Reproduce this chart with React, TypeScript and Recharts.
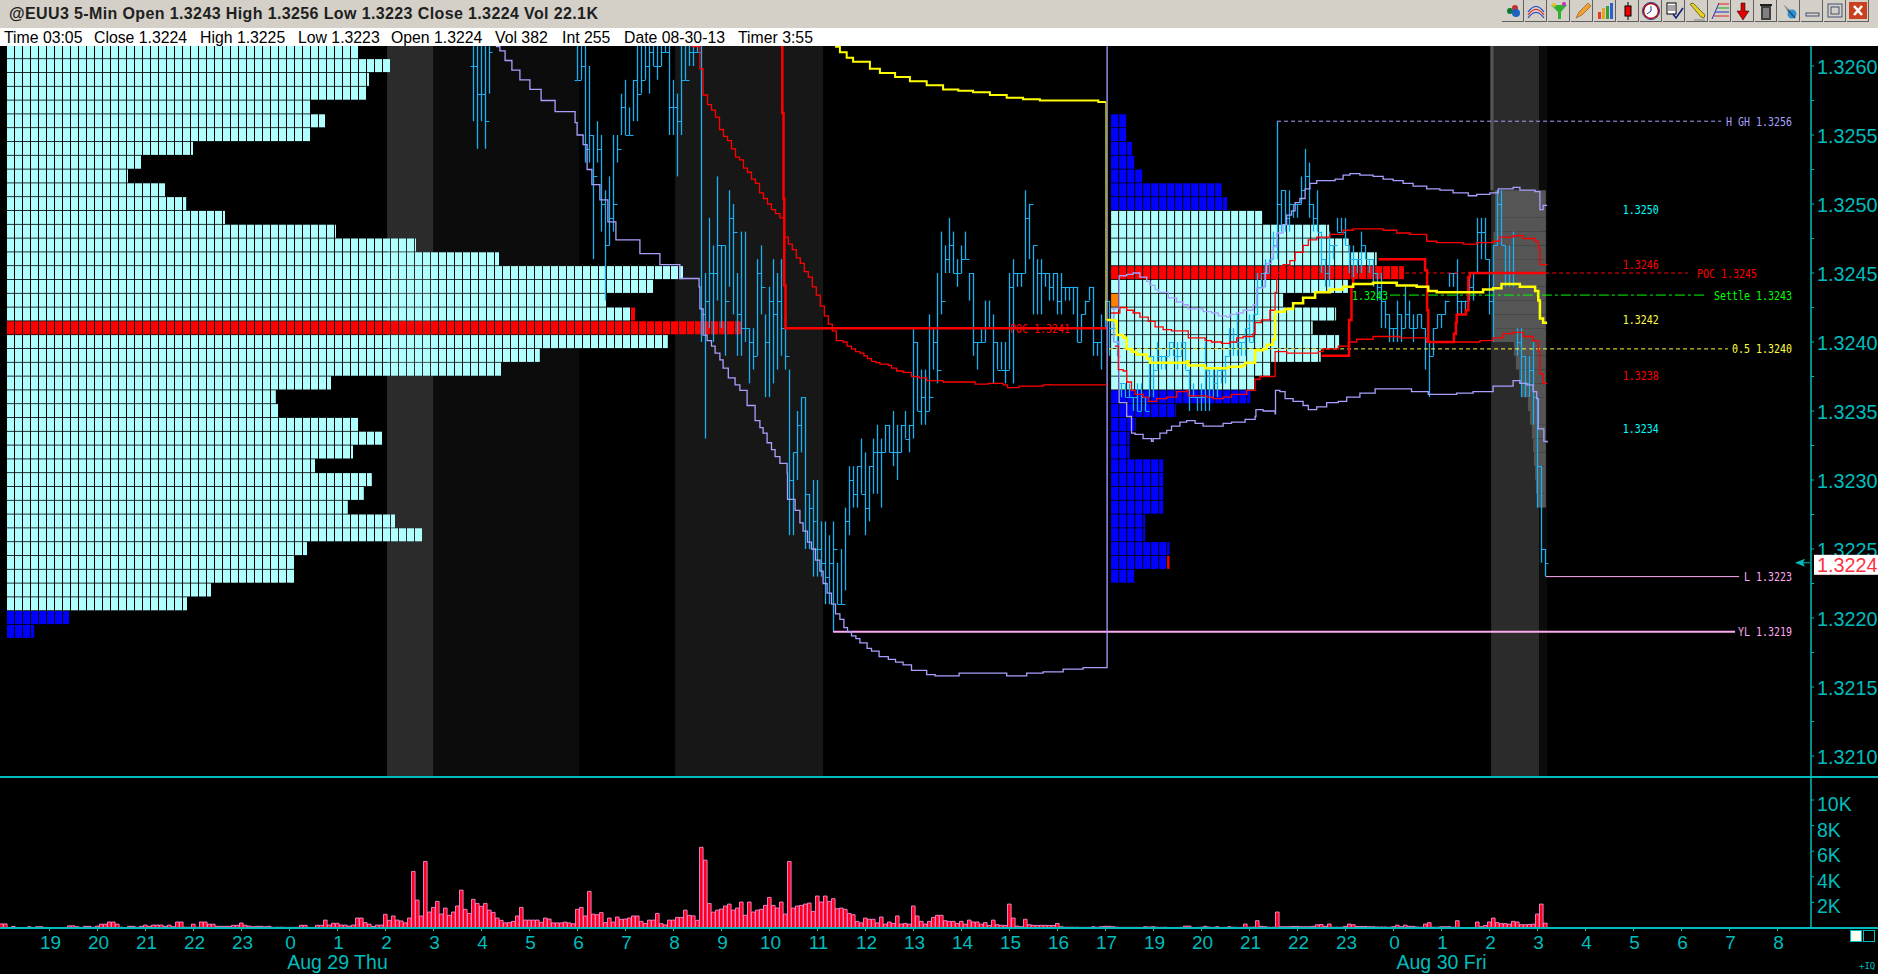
import React from "react";
import {
  Bar,
  BarChart,
  ComposedChart,
  Line,
  ReferenceArea,
  ReferenceDot,
  XAxis,
  YAxis,
} from "recharts";

const PRICE_TOP = 13261.45;
const PRICE_BOTTOM = 13208.55;
const LAST_PRICE = 13224;
// x axis is the 5-min bar number, -0.375 is the left page edge
const X_DOMAIN: [number, number] = [-0.375, 452.375];

const priceMajorTicks = [13260, 13255, 13250, 13245, 13240, 13235, 13230, 13225, 13220, 13215, 13210];
const priceMinorTicks = [13257.5, 13252.5, 13247.5, 13242.5, 13237.5, 13232.5, 13227.5, 13222.5, 13217.5, 13212.5];
const volumeTicks = [2000, 4000, 6000, 8000, 10000];
const hourBars = [12, 24, 36, 48, 60, 72, 84, 96, 108, 120, 132, 144, 156, 168, 180, 192, 204, 216, 228, 240, 252, 264, 276, 288, 300, 312, 324, 336, 348, 360, 372, 384, 396, 408, 420, 432, 444];
const hourLabels = ["19", "20", "21", "22", "23", "0", "1", "2", "3", "4", "5", "6", "7", "8", "9", "10", "11", "12", "13", "14", "15", "16", "17", "19", "20", "21", "22", "23", "0", "1", "2", "3", "4", "5", "6", "7", "8"];
const dayLabelBars = [84, 360];
const dayLabels = ["Aug 29 Thu", "Aug 30 Fri"];

// volume per bar, one row per hour
const volumes = [
  320, 320, 40, 120, 40, 40, 40, 100, 40, 100, 100, 40,
  40, 40, 40, 40, 40, 170, 170, 100, 40, 130, 130, 60,
  150, 300, 300, 470, 470, 300, 60, 40, 130, 130, 50, 130,
  230, 130, 230, 230, 230, 130, 230, 100, 470, 470, 60, 60,
  300, 60, 470, 470, 300, 300, 130, 130, 130, 130, 210, 210,
  390, 210, 150, 100, 130, 130, 100, 130, 50, 60, 60, 50,
  50, 50, 50, 210, 210, 50, 50, 210, 210, 620, 230, 370,
  370, 230, 230, 150, 230, 780, 780, 420, 300, 120, 230, 230,
  1070, 600, 940, 620, 550, 400, 780, 4420, 2180, 940, 5200, 1250,
  1610, 2080, 1090, 1560, 990, 1250, 1720, 2960, 1460, 1140, 2240, 1920,
  1690, 1920, 1400, 1220, 780, 600, 400, 420, 520, 940, 1610, 620,
  620, 620, 620, 440, 780, 700, 400, 400, 400, 460, 400, 330,
  1460, 1610, 940, 2860, 1080, 1040, 1200, 420, 780, 460, 860, 680,
  700, 780, 940, 940, 520, 350, 620, 620, 1140, 340, 240, 620,
  620, 830, 830, 1400, 990, 950, 600, 6300, 5300, 1920, 1240, 1400,
  1480, 1720, 1870, 1400, 1560, 2030, 1000, 2030, 1250, 1400, 1460, 1770,
  2390, 1770, 1560, 2030, 1090, 5200, 1560, 1720, 1770, 1870, 1950, 1300,
  2500, 2030, 2500, 2080, 2290, 1510, 1560, 1460, 1140, 1040, 520, 400,
  780, 680, 680, 400, 860, 310, 470, 360, 940, 310, 360, 300,
  1720, 940, 520, 310, 520, 830, 990, 990, 570, 520, 520, 360,
  520, 300, 620, 470, 470, 300, 420, 200, 620, 260, 210, 200,
  1870, 780, 150, 100, 680, 260, 210, 200, 210, 210, 200, 200,
  360, 100, 60, 60, 60, 60, 50, 50, 50, 100, 60, 100,
  130, 130, 100, 60, 50, 50, 50, 50, 50, 40, 100, 80,
  100, 60, 50, 60, 40, 40, 40, 50, 150, 150, 40, 50,
  60, 130, 70, 50, 100, 40, 50, 100, 60, 50, 50, 310,
  60, 70, 570, 130, 100, 60, 60, 1250, 100, 100, 100, 120,
  120, 100, 100, 100, 130, 250, 270, 130, 310, 60, 60, 60,
  130, 310, 260, 120, 120, 120, 100, 100, 80, 80, 80, 60,
  100, 220, 100, 220, 130, 130, 80, 60, 310, 420, 60, 60,
  100, 100, 100, 60, 570, 40, 40, 40, 40, 470, 100, 200,
  470, 780, 420, 340, 340, 300, 520, 470, 260, 260, 280, 300,
  1090, 1870, 382,
];

// [high, low, close] per bar
const nightBarsStart = 118;
const nightBars = [
  [13264, 13256, 13260], [13264, 13254, 13258], [13264, 13256, 13258], [13264, 13254, 13256], [13264, 13258, 13261],
];
const londonBarsStart = 144;
const londonBars = [
  [13263, 13259, 13259], [13263, 13259, 13260], [13263, 13253, 13254], [13260, 13253, 13255], [13255, 13246, 13252],
  [13256, 13253, 13254], [13255, 13248, 13250], [13251, 13243, 13247], [13252, 13247, 13249], [13255, 13248, 13250],
  [13255, 13253, 13254], [13258, 13255, 13257], [13259, 13255, 13255], [13257, 13255, 13255], [13259, 13256, 13259],
  [13262, 13256, 13258], [13262, 13258, 13259], [13262, 13259, 13260], [13262, 13258, 13261], [13262, 13260, 13260],
  [13262, 13259, 13260], [13262, 13260, 13261], [13263, 13261, 13261], [13262, 13255, 13257], [13259, 13255, 13257],
  [13258, 13252, 13256], [13262, 13255, 13259], [13262, 13259, 13259], [13263, 13260, 13261], [13262, 13260, 13261],
  [13262, 13261, 13261], [13262, 13240, 13242], [13245, 13233, 13243], [13249, 13241, 13245], [13247, 13240, 13245],
  [13252, 13243, 13247], [13247, 13241, 13247], [13247, 13239, 13243], [13251, 13244, 13249], [13250, 13242, 13248],
  [13245, 13239, 13242], [13248, 13239, 13241], [13248, 13240, 13241], [13241, 13237, 13240], [13241, 13238, 13239],
  [13246, 13239, 13245], [13247, 13242, 13244], [13242, 13236, 13240], [13244, 13236, 13243], [13246, 13237, 13242],
  [13245, 13238, 13243], [13246, 13239, 13241], [13242, 13238, 13239], [13238, 13226, 13230], [13232, 13226, 13232],
  [13235, 13230, 13234], [13236, 13232, 13236], [13236, 13225, 13229], [13229, 13225, 13228], [13230, 13223, 13227],
];
const usBars = [
  [13230, 13223, 13225], [13227, 13223, 13224], [13227, 13221, 13223], [13226, 13221, 13224], [13227, 13219, 13225],
  [13224, 13221, 13221], [13225, 13221, 13221], [13228, 13222, 13227], [13231, 13226, 13230], [13231, 13228, 13229],
  [13231, 13228, 13231], [13233, 13229, 13229], [13232, 13226, 13228], [13231, 13227, 13231], [13233, 13229, 13232],
  [13234, 13229, 13232], [13233, 13228, 13232], [13234, 13232, 13234], [13234, 13232, 13232], [13235, 13231, 13232],
  [13234, 13230, 13232], [13234, 13232, 13234], [13235, 13233, 13233], [13234, 13232, 13234], [13241, 13233, 13240],
  [13240, 13235, 13235], [13238, 13234, 13236], [13238, 13234, 13235], [13242, 13235, 13236], [13241, 13238, 13240],
  [13245, 13237, 13238], [13248, 13242, 13243], [13247, 13245, 13246], [13249, 13245, 13247], [13248, 13245, 13245],
  [13246, 13244, 13245], [13247, 13245, 13246], [13248, 13246, 13246], [13245, 13243, 13245], [13245, 13239, 13240],
  [13240, 13238, 13240], [13241, 13240, 13240], [13243, 13240, 13241], [13243, 13241, 13241], [13242, 13237, 13240],
  [13240, 13238, 13238], [13240, 13238, 13238], [13240, 13237, 13238], [13245, 13238, 13244], [13246, 13237, 13245],
  [13245, 13244, 13245], [13245, 13244, 13245], [13251, 13245, 13249], [13250, 13246, 13250], [13247, 13242, 13247],
  [13246, 13242, 13245], [13246, 13242, 13245], [13245, 13244, 13245], [13245, 13243, 13244], [13245, 13243, 13245],
  [13245, 13242, 13243], [13245, 13242, 13244], [13244, 13243, 13244], [13244, 13243, 13244], [13244, 13242, 13244],
  [13244, 13240, 13240], [13242, 13240, 13242], [13243, 13242, 13243], [13244, 13243, 13244], [13244, 13239, 13240],
  [13240, 13239, 13240], [13242, 13238, 13241], [13243, 13241, 13243], [13243, 13239, 13241], [13242, 13240, 13241],
  [13241, 13239, 13239],
];
const nextDayBars = [
  [13237, 13236, 13237], [13237, 13236, 13236], [13237, 13236, 13236], [13236, 13235, 13236], [13237, 13235, 13235],
  [13237, 13235, 13236], [13236, 13235, 13235], [13239, 13236, 13239], [13239, 13236, 13238], [13240, 13238, 13239],
  [13239, 13238, 13239], [13239, 13238, 13239], [13240, 13239, 13240], [13240, 13239, 13239], [13240, 13238, 13239],
  [13240, 13239, 13240], [13240, 13238, 13238], [13238, 13235, 13236], [13237, 13236, 13236], [13236, 13235, 13236],
  [13237, 13235, 13236], [13240, 13235, 13238], [13238, 13235, 13236], [13238, 13236, 13237], [13238, 13236, 13238],
  [13238, 13237, 13238], [13239, 13237, 13239], [13241, 13239, 13240], [13241, 13239, 13240], [13242, 13239, 13240],
  [13240, 13239, 13240], [13241, 13239, 13241], [13242, 13240, 13240], [13242, 13240, 13242], [13245, 13242, 13244],
  [13245, 13244, 13245], [13246, 13244, 13245], [13246, 13245, 13246], [13248, 13246, 13247], [13256, 13246, 13250],
  [13251, 13248, 13251], [13251, 13248, 13249], [13251, 13248, 13250], [13250, 13249, 13250], [13250, 13249, 13250],
  [13252, 13250, 13251], [13254, 13251, 13252], [13253, 13249, 13250], [13250, 13248, 13249], [13251, 13248, 13248],
  [13248, 13245, 13246], [13246, 13244, 13245], [13248, 13244, 13247], [13247, 13246, 13247], [13249, 13248, 13248],
  [13249, 13248, 13248], [13249, 13247, 13247], [13247, 13245, 13246], [13247, 13244, 13246], [13246, 13245, 13246],
  [13248, 13245, 13247], [13247, 13246, 13246], [13246, 13245, 13246], [13246, 13244, 13245], [13245, 13243, 13244],
  [13245, 13241, 13243], [13243, 13241, 13242], [13242, 13240, 13241], [13241, 13240, 13241], [13243, 13240, 13242],
  [13242, 13240, 13241], [13244, 13241, 13242], [13243, 13241, 13241], [13242, 13240, 13241], [13242, 13241, 13242],
  [13242, 13241, 13241], [13241, 13238, 13240], [13240, 13236, 13239], [13241, 13239, 13241], [13242, 13241, 13242],
  [13242, 13241, 13242], [13243, 13242, 13243], [13245, 13244, 13245], [13245, 13244, 13245], [13246, 13242, 13243],
  [13243, 13242, 13243], [13243, 13242, 13243], [13245, 13243, 13244], [13245, 13243, 13245], [13249, 13245, 13248],
  [13249, 13246, 13248], [13249, 13246, 13246], [13246, 13242, 13243], [13247, 13240, 13247], [13251, 13247, 13250],
  [13251, 13247, 13247], [13247, 13244, 13245], [13247, 13244, 13245], [13248, 13244, 13245], [13241, 13239, 13240],
  [13241, 13236, 13239], [13239, 13236, 13237], [13239, 13236, 13238], [13240, 13234, 13236], [13236, 13228, 13231],
  [13231, 13224, 13225], [13225, 13223, 13224],
];

// market profile rows, cells per price level
const leftProfileTop = 13261;
const leftProfile = [
  43.9, 47.9, 45.25, 44.9, 37.9, 39.75, 37.9, 23.25, 16.75, 15.1, 19.75, 22.4, 27.25, 41.1, 51.1, 61.5, 84.5, 80.75, 74.9, 78.5,
  91.8, 82.6, 66.6, 61.75, 40.5, 33.6, 33.9, 43.9, 46.9, 43.25, 38.5, 45.6, 44.6, 42.6, 48.5, 51.9, 37.5, 35.9, 35.9, 25.5, 22.5, 7.75, 3.4,
];
const leftBlueBelow = 13221;
const leftPoc = 13241;
const rightProfileTop = 13256;
const rightProfile = [
  1.9, 1.9, 2.6, 2.9, 3.9, 13.8, 14.5, 18.9, 27.25, 29.7, 33.2, 36.6, 29.6, 21.5, 28.1, 25.2, 28.5, 26.2, 19.9, 17.9,
  17.4, 8.1, 3.1, 2.3, 2.3, 6.5, 6.5, 6.5, 6.5, 4.25, 4.25, 7.3, 7.3, 2.9,
];
const rightBlueAbove = 13249;
const rightBlueBelow = 13237;
const rightPoc = 13245;

// shaded sessions, first/last bar
const sessionBars = [[96.4, 108], [108, 144.4], [168.4, 205.4], [372.4, 384.4], [384.4, 386.4]];
const grayRowPrices = [13251, 13250, 13249, 13248, 13247, 13246, 13245, 13244, 13243, 13242, 13241, 13240, 13239, 13238, 13237, 13236, 13235, 13234, 13233, 13232, 13231, 13230, 13229];
const grayRowStart = [373.4, 373.4, 373.4, 373, 373, 373, 373, 373, 373, 373, 373, 378.1, 378.6, 379.4, 380.1, 381.6, 382.1, 382.6, 382.9, 383.1, 383.4, 383.6, 383.9];

const vwapLowDay1 = [[123.6, 13261.4], [124.6, 13261.1], [125.9, 13260.4], [127.6, 13259.7], [129.6, 13259], [132.1, 13258.3], [134.9, 13257.5], [138.4, 13256.7], [143.4, 13255.9], [143.9, 13255], [145.4, 13254.3], [146.4, 13252.5], [147.6, 13251.4], [149.6, 13250.3], [151.6, 13248.7], [153.6, 13247.4], [159.6, 13246.4], [164.6, 13245.6], [169.6, 13244.6], [174.4, 13244], [174.6, 13242.4], [175.4, 13240.5], [176.4, 13240.1], [177.5, 13239.7], [178.4, 13239.2], [179.6, 13238.7], [180.4, 13238.1], [181.7, 13237.4], [183.4, 13236.9], [184.6, 13236.5], [186.4, 13235.4], [188.4, 13234.3], [189.6, 13233.8], [190.4, 13233.4], [191.4, 13232.7], [192.5, 13232.2], [193.4, 13231.7], [194.6, 13231.2], [196.4, 13230.5], [196.5, 13228.6], [198.4, 13227.8], [199.6, 13226.9], [200.4, 13226.3], [201.5, 13225.5], [202.5, 13225], [203.5, 13224.2], [204.6, 13223.4], [205.4, 13222.5], [206.4, 13221.8], [207.5, 13221], [208.5, 13220.3], [209.6, 13219.9], [210.6, 13219.3], [211.5, 13219], [212.5, 13218.7], [213.6, 13218.5], [214.6, 13218.2], [216.4, 13217.8], [217.5, 13217.6], [219.4, 13217.2], [221.7, 13217], [223.5, 13216.8], [225.4, 13216.6], [227.5, 13216.2], [231.3, 13215.9], [233.4, 13215.8], [237.5, 13215.8], [239.4, 13216], [247.5, 13216], [251.3, 13215.8], [253.8, 13215.8], [256.3, 13216], [260.4, 13216.1], [265.4, 13216.3], [270.4, 13216.4], [276.4, 13216.5], [276.4, 13262]];
const vwapMidDay1 = [[172.5, 13261.4], [174.6, 13259.8], [175.4, 13257.9], [176.5, 13257.2], [177.5, 13256.8], [178.5, 13256.3], [179.5, 13255.4], [180.5, 13254.9], [181.5, 13254.6], [182.5, 13254], [183.5, 13253.4], [184.5, 13253.2], [185.5, 13252.6], [186.5, 13252.3], [187.5, 13251.8], [188.5, 13251.5], [189.5, 13250.8], [190.5, 13250.4], [191.5, 13250], [192.5, 13249.6], [193.5, 13249.3], [194.6, 13249], [195.7, 13247.6], [196.7, 13247.1], [197.7, 13246.7], [198.7, 13246.1], [199.7, 13245.7], [200.7, 13245.1], [201.7, 13244.7], [202.7, 13244], [203.7, 13243.4], [204.7, 13242.6], [205.7, 13241.9], [206.7, 13241.3], [207.7, 13240.8], [208.7, 13240.1], [210.4, 13240], [211.4, 13239.7], [212.5, 13239.5], [213.5, 13239.3], [214.6, 13239.2], [215.6, 13239], [216.5, 13238.8], [217.5, 13238.6], [218.6, 13238.5], [219.6, 13238.4], [221.7, 13238.3], [222.5, 13238.1], [223.8, 13237.9], [225.4, 13237.8], [227.5, 13237.5], [229.4, 13237.4], [231.3, 13237.2], [235.4, 13237.1], [243.4, 13236.95], [246.7, 13237], [250.4, 13236.9], [251.5, 13236.7], [254.4, 13236.8], [260.4, 13236.9], [276.3, 13236.9]];
const yellowDay1 = [[208.4, 13261.4], [209.6, 13261], [211.3, 13260.6], [212.9, 13260.3], [217.1, 13259.8], [219.6, 13259.5], [223.4, 13259.2], [227.1, 13258.9], [231.3, 13258.6], [235.4, 13258.3], [239.2, 13258.2], [242.9, 13258.1], [247.1, 13257.9], [251.3, 13257.7], [255.4, 13257.6], [259.6, 13257.5], [264.6, 13257.5], [274.2, 13257.4], [276.1, 13257.4]];
const yellowDrop = [[276.1, 13257.4], [276.1, 13241.6]];
const pocDay1 = [[195.2, 13261.45], [195.2, 13256.6], [195.5, 13256.6], [195.5, 13250.4], [195.7, 13250.4], [195.7, 13244.1], [196, 13244.1], [196, 13241], [276.3, 13241]];

const upperLavenderDay2 = [[277.6, 13242.4], [279.4, 13242.6], [279.4, 13244.8], [281.3, 13244.9], [282.9, 13245], [284.6, 13244.7], [286.3, 13244.4], [287.1, 13244.1], [288.4, 13243.8], [289.2, 13243.6], [291.7, 13243.2], [293.8, 13242.9], [295.4, 13242.7], [296.7, 13242.4], [298.8, 13242.4], [300.4, 13242.2], [302.5, 13242.1], [304.2, 13241.9], [306.3, 13241.8], [307.1, 13242], [308.8, 13242.1], [310.4, 13242.3], [312.9, 13242.7], [313.8, 13243.9], [315.4, 13244], [315.9, 13245], [316.3, 13245.7], [317.5, 13246.1], [317.9, 13246.9], [318.8, 13247.9], [320.4, 13248.5], [321.3, 13249.2], [322.5, 13249.5], [323.4, 13250.1], [324.6, 13250.4], [325.9, 13251.1], [327.1, 13251.5], [328.8, 13251.7], [333.4, 13251.8], [335.4, 13252.1], [337.1, 13252.2], [339.6, 13252.1], [342.9, 13252], [345.4, 13251.8], [347.9, 13251.7], [350.4, 13251.5], [352.9, 13251.3], [356.3, 13251.1], [359.6, 13251], [362.9, 13250.8], [366.7, 13250.6], [368.8, 13250.7], [372.1, 13250.8], [374.2, 13251.1], [377.9, 13251.2], [379.6, 13251], [383.4, 13250.9], [384.6, 13250.5], [384.6, 13249.6], [385.4, 13249.9], [386.4, 13249.9]];
const upperRedDay2 = [[277.4, 13242.1], [279.6, 13242.5], [281.3, 13242.3], [282.9, 13242.1], [284.6, 13241.8], [286.7, 13241.5], [288.4, 13241.1], [290.4, 13240.9], [292.5, 13240.8], [296.7, 13240.3], [300, 13240.3], [300.9, 13240.1], [302.5, 13240], [305, 13239.9], [307.1, 13240], [308.8, 13240.3], [310.4, 13240.4], [312.9, 13240.6], [313.4, 13241.4], [315, 13241.6], [317.1, 13242.3], [318.4, 13243.6], [318.8, 13245], [320.4, 13245.6], [322.1, 13245.9], [323.4, 13246.5], [325.4, 13247], [326.7, 13247.4], [328.8, 13247.6], [332.1, 13247.8], [335.4, 13248.1], [337.9, 13248.2], [343.4, 13248.2], [345.4, 13248.1], [348.8, 13247.9], [352.1, 13247.8], [356.3, 13247.3], [358.8, 13247.2], [362.9, 13247.2], [365.4, 13247.1], [368.8, 13247.2], [372.9, 13247.3], [374.6, 13247.6], [377.9, 13247.7], [380.4, 13247.5], [383.4, 13247.3], [384.2, 13246.8], [384.6, 13245.6], [386.4, 13245.6]];
const lowerRedDay2 = [[278.3, 13239.7], [279.2, 13238], [280.4, 13237.9], [281.3, 13237.1], [282.5, 13236.5], [283.4, 13236.2], [285.4, 13236], [286.7, 13235.7], [288.8, 13235.9], [291.3, 13236], [293.8, 13236.4], [296.3, 13236.5], [296.7, 13236.1], [301.3, 13236], [302.9, 13235.9], [305.4, 13236], [307.5, 13236.2], [311.3, 13236.5], [313.4, 13237.3], [314.6, 13237.5], [317.9, 13237.5], [318.4, 13239.3], [321.3, 13239.2], [326.3, 13239.2], [329.2, 13239.3], [330.4, 13239.5], [334.2, 13239.7], [336.7, 13240], [338.8, 13240.2], [342.9, 13240.4], [346.3, 13240.4], [349.6, 13240.3], [354.6, 13240.3], [356.3, 13240], [358.8, 13240], [367.1, 13240], [369.6, 13240.1], [372.9, 13240.3], [375.4, 13240.6], [377.9, 13240.7], [380.4, 13240.4], [382.9, 13240.1], [384.2, 13239.3], [384.6, 13237.7], [385.4, 13237], [386.4, 13237]];
const yellowDay2 = [[276.3, 13241.6], [278.4, 13241.5], [278.8, 13240.5], [280.4, 13240.3], [281.3, 13239.5], [282.5, 13239.3], [283.8, 13239.1], [286.3, 13238.8], [287.1, 13238.5], [292.1, 13238.5], [296.3, 13238.6], [296.7, 13238.3], [300.4, 13238.3], [300.9, 13238.1], [306.3, 13238.1], [306.7, 13238.2], [310, 13238.3], [310.9, 13238.5], [313.4, 13238.7], [313.4, 13239.4], [315.4, 13239.5], [316.3, 13239.8], [317.9, 13240.2], [318.4, 13242.2], [320.9, 13242.4], [322.9, 13242.8], [325.4, 13243.2], [328.4, 13243.6], [332.1, 13243.8], [335.4, 13244], [337.9, 13244.2], [342.9, 13244.3], [348.8, 13244.1], [353.8, 13244], [356.7, 13243.7], [358.8, 13243.6], [367.9, 13243.6], [370.4, 13243.8], [372.9, 13243.9], [375, 13244.2], [377.9, 13244.2], [379.6, 13244], [383.4, 13243.7], [384.2, 13243], [384.6, 13241.7], [385.4, 13241.4], [386.4, 13241.4]];
const lowerLavenderDay2 = [[277.3, 13242.4], [278.1, 13240], [279.4, 13238.2], [279.4, 13235.6], [281.3, 13234.6], [282.5, 13233.4], [283.4, 13233.3], [285.4, 13233], [287.5, 13232.8], [287.9, 13233], [289.6, 13233.4], [291.3, 13233.6], [292.5, 13233.9], [294.6, 13234.2], [296.3, 13234.3], [298.4, 13234.1], [300.4, 13233.9], [303.4, 13233.9], [305.4, 13234.1], [307.5, 13234.2], [309.2, 13234.2], [310.9, 13234.4], [313.4, 13234.6], [313.6, 13235.1], [315.4, 13235], [318.4, 13234.8], [318.5, 13236.5], [319.6, 13236.4], [320.9, 13235.9], [322.9, 13235.7], [325.4, 13235.4], [326.7, 13235.1], [328.8, 13235.3], [331.3, 13235.6], [334.2, 13235.7], [336.3, 13236], [339.6, 13236.3], [343.4, 13236.6], [347.9, 13236.6], [352.5, 13236.4], [355.4, 13236.4], [356.7, 13236.2], [360.4, 13236.2], [363.8, 13236.3], [367.9, 13236.4], [372.9, 13236.8], [377.9, 13237.2], [379.6, 13237], [381.3, 13236.9], [382.9, 13236.4], [383.8, 13235.9], [384.2, 13233.7], [385.4, 13233.7], [385.6, 13232.8], [386.4, 13232.7]];
const pocDay2Start = [[330, 13239], [336.9, 13239], [336.9, 13241.6], [337.5, 13241.6], [337.5, 13244], [337.9, 13244], [337.9, 13244.7]];
const pocDay2End = [[344.2, 13246], [355.9, 13246], [355.9, 13245.2], [356.3, 13245.2], [356.4, 13242.3], [356.7, 13240], [362.9, 13240], [363.1, 13240.6], [363.6, 13241.4], [363.8, 13242], [366.1, 13242], [366.1, 13242.3], [366.7, 13244.7], [367.1, 13245], [386, 13245]];

// horizontal levels: price, first bar, last bar, name
const levelPrices = [13256, 13245, 13243.4, 13239.5, 13223, 13219];
const levelFrom = [318.9, 350.9, 347.1, 276.9, 386.1, 207.9];
const levelTo = [429.9, 421.6, 426.1, 431.6, 434.4, 433.4];
const levelNames = ["H GH 1.3256", "POC 1.3245", "Settle 1.3243", "0.5 1.3240", "L 1.3223", "YL 1.3219"];
const levelLabelEnd = [447.6, 438.9, 447.6, 447.6, 447.6, 447.6];
const levelColors = ["#a8a0ff", "#ff0000", "#00ff00", "#ffff40", "#ffa8f0", "#ffa8f0"];
const levelDashes = ["4 3", "4 3", "10 3 3 3", "4 3", undefined, undefined];
const levelWidths = [1, 1, 1, 1, 1, 2];

const sideLabelPrices = [13249.6, 13245.6, 13241.6, 13237.6, 13233.7];
const sideLabelNames = ["1.3250", "1.3246", "1.3242", "1.3238", "1.3234"];
const sideLabelColors = ["#00ffff", "#ff0000", "#ffff40", "#ff0000", "#00ffff"];

const TEAL = "#00bcbc";
const BLUE_BAR = "#18b0f0";
const LAVENDER = "#a8a0ff";
const RED = "#ff0000";
const YELLOW = "#ffff00";

const toPoints = (rows: number[][]) => rows.map(([x, p]) => ({ x, p }));

function buildBars(start: number, rows: number[][]) {
  return rows.map(([h, l, c], k) => ({ x: start + k, h, l, c, o: k > 0 ? rows[k - 1][2] : c, range: [l, h] }));
}

const ohlcData = [
  ...buildBars(nightBarsStart, nightBars),
  ...buildBars(londonBarsStart, londonBars),
  ...buildBars(londonBarsStart + londonBars.length, usBars),
  ...buildBars(londonBarsStart + londonBars.length + usBars.length, nextDayBars),
];

const volumeData = volumes.map((v, x) => ({ x, v }));

interface ProfileRow {
  price: number;
  count: number;
  range: number[];
  fill: string;
  firstFill?: string;
  lastFill?: string;
}

const LEFT_START = 1.375;
const RIGHT_START = 277.4;
const profileRows: ProfileRow[] = [
  ...leftProfile.map((count, k) => {
    const price = leftProfileTop - k;
    return {
      price,
      count,
      range: [LEFT_START, LEFT_START + count * 2],
      fill: price === leftPoc ? RED : price < leftBlueBelow ? "#0000ff" : "#b0ffff",
      lastFill: price === 13242 ? RED : undefined,
    };
  }),
  ...rightProfile.map((count, k) => {
    const price = rightProfileTop - k;
    return {
      price,
      count,
      range: [RIGHT_START, RIGHT_START + count * 2],
      fill: price === rightPoc ? RED : price > rightBlueAbove || price < rightBlueBelow ? "#0000ff" : "#b0ffff",
      firstFill: price === 13243 ? "#ff8000" : undefined,
      lastFill: price === 13224 ? RED : undefined,
    };
  }),
];

function ProfileCells(props: any) {
  const { x, y, width, height, payload } = props;
  const cellW = width / payload.count;
  const cells = [];
  for (let k = 0; k < Math.ceil(payload.count); k++) {
    const left = x + k * cellW;
    const w = Math.min(cellW - 1, x + width - left);
    let fill = payload.fill;
    if (k === 0 && payload.firstFill) fill = payload.firstFill;
    if (k === Math.ceil(payload.count) - 1 && payload.lastFill) fill = payload.lastFill;
    cells.push(<rect key={k} x={left} y={y} width={Math.max(w, 1)} height={height} fill={fill} />);
  }
  return <g>{cells}</g>;
}

function OhlcBar(props: any) {
  const { x, y, width, height, payload } = props;
  const cx = Math.floor(x + width / 2) + 0.5;
  const perPip = height / (payload.h - payload.l);
  const openY = Math.round(y + (payload.h - payload.o) * perPip) + 0.5;
  const closeY = Math.round(y + (payload.h - payload.c) * perPip) + 0.5;
  return (
    <g stroke={BLUE_BAR} strokeWidth={1.3}>
      <line x1={cx} x2={cx} y1={y} y2={y + height} />
      <line x1={cx - 3} x2={cx} y1={openY} y2={openY} strokeWidth={1} />
      <line x1={cx} x2={cx + 3} y1={closeY} y2={closeY} strokeWidth={1} />
    </g>
  );
}

function PriceTick(props: any) {
  const { x, y, payload } = props;
  const v = payload.value;
  if (v === LAST_PRICE) {
    return (
      <g>
        <polygon points={`${x - 16},${y} ${x - 6},${y - 4} ${x - 8},${y} ${x - 6},${y + 4}`} fill={TEAL} />
        <line x1={x - 8} x2={x - 1} y1={y} y2={y} stroke={TEAL} />
        <rect x={x + 3} y={y - 8} width={64} height={20} fill="#fff" />
        <text x={x + 6} y={y + 2} dominantBaseline="central" fontFamily="Liberation Sans" fontSize={19.8} fill="#ff3040">
          {(v / 10000).toFixed(4)}
        </text>
      </g>
    );
  }
  const major = priceMajorTicks.includes(v);
  return (
    <g>
      <line x1={x} x2={x + 3} y1={y} y2={y} stroke={TEAL} />
      {major && (
        <text x={x + 6} y={y + 1} dominantBaseline="central" fontFamily="Liberation Sans" fontSize={19.8} fill={TEAL}>
          {(v / 10000).toFixed(4)}
        </text>
      )}
    </g>
  );
}

function VolumeTick(props: any) {
  const { x, y, payload } = props;
  return (
    <g>
      <line x1={x} x2={x + 3} y1={y} y2={y} stroke={TEAL} />
      <text x={x + 6} y={y + 4} dominantBaseline="central" fontFamily="Liberation Sans" fontSize={19.5} fill={TEAL}>
        {payload.value / 1000}K
      </text>
    </g>
  );
}

function HourTick(props: any) {
  const { x, y, payload } = props;
  const k = hourBars.indexOf(payload.value);
  const day = dayLabelBars.indexOf(payload.value);
  return (
    <g fontFamily="Liberation Sans" fill={TEAL} textAnchor="middle">
      <line x1={x} x2={x} y1={y} y2={y + 3} stroke={TEAL} />
      <text x={x + 1} y={y + 14} dominantBaseline="central" fontSize={19}>{hourLabels[k]}</text>
      {day >= 0 && (
        <text x={x} y={y + 34} dominantBaseline="central" fontSize={19.5}>{dayLabels[day]}</text>
      )}
    </g>
  );
}

function MonoLabel(props: any) {
  const { cx, cy, text, color, anchor } = props;
  return (
    <text
      x={cx}
      y={cy}
      dominantBaseline="central"
      textAnchor={anchor}
      fontFamily="DejaVu Sans Mono"
      fontSize={13}
      fill={color}
      textLength={text.length * 6}
      lengthAdjust="spacingAndGlyphs"
    >
      {text}
    </text>
  );
}

function stairLine(key: string, rows: number[][], color: string, width: number) {
  return (
    <Line
      key={key}
      data={toPoints(rows)}
      dataKey="p"
      type="stepAfter"
      stroke={color}
      strokeWidth={width}
      dot={false}
      activeDot={false}
      isAnimationActive={false}
    />
  );
}

const panelMargin = { top: 0, right: 67, bottom: 0, left: 0 };

function SessionBands() {
  const fills = ["#2b2b2b", "#0c0c0c", "#171717", "#2b2b2b", "#0c0c0c"];
  return (
    <ComposedChart width={1878} height={730} margin={panelMargin} data={volumeData}>
      <XAxis type="number" dataKey="x" domain={X_DOMAIN} hide allowDataOverflow />
      <YAxis type="number" domain={[PRICE_BOTTOM, PRICE_TOP]} hide allowDataOverflow />
      {sessionBars.map(([a, b], k) => (
        <ReferenceArea key={k} x1={a} x2={b} y1={PRICE_BOTTOM} y2={PRICE_TOP} fill={fills[k]} fillOpacity={1} stroke="none" />
      ))}
      <ReferenceArea x1={372.2} x2={373} y1={13251} y2={PRICE_TOP} fill="#555555" fillOpacity={1} stroke="none" />
      {grayRowPrices.map((p, k) => (
        <ReferenceArea key={p} x1={grayRowStart[k]} x2={386.1} y1={p - 1} y2={p} fill="#555555" fillOpacity={1} stroke="none" />
      ))}
    </ComposedChart>
  );
}

function ProfileLayer() {
  return (
    <BarChart width={1878} height={730} margin={panelMargin} layout="vertical" data={profileRows}>
      <XAxis type="number" domain={X_DOMAIN} hide allowDataOverflow />
      <YAxis type="number" dataKey="price" domain={[PRICE_BOTTOM, PRICE_TOP]} reversed hide allowDataOverflow />
      <Bar dataKey="range" barSize={13} shape={ProfileCells} isAnimationActive={false} />
    </BarChart>
  );
}

function PricePanel() {
  return (
    <ComposedChart width={1878} height={730} margin={{ top: 0, right: 0, bottom: 0, left: 0 }} data={ohlcData}>
      <XAxis type="number" dataKey="x" domain={X_DOMAIN} hide allowDataOverflow />
      <YAxis
        type="number"
        orientation="right"
        width={67}
        domain={[PRICE_BOTTOM, PRICE_TOP]}
        allowDataOverflow
        ticks={[...priceMajorTicks, ...priceMinorTicks, LAST_PRICE]}
        interval={0}
        tickSize={0}
        tickMargin={0}
        tickLine={false}
        tick={PriceTick}
        axisLine={{ stroke: TEAL, strokeWidth: 1.5 }}
      />
      {levelPrices.map((p, k) => (
        <Line
          key={levelNames[k]}
          data={[{ x: levelFrom[k], p }, { x: levelTo[k], p }]}
          dataKey="p"
          stroke={levelColors[k]}
          strokeWidth={levelWidths[k]}
          strokeDasharray={levelDashes[k]}
          dot={false}
          activeDot={false}
          isAnimationActive={false}
        />
      ))}
      {stairLine("pocDay1", pocDay1, RED, 2.5)}
      {stairLine("pocDay2a", pocDay2Start, RED, 2.5)}
      {stairLine("pocDay2b", pocDay2End, RED, 2.5)}
      <Bar dataKey="range" barSize={1} shape={OhlcBar} isAnimationActive={false} />
      {stairLine("vwapLowDay1", vwapLowDay1, LAVENDER, 1.3)}
      {stairLine("vwapMidDay1", vwapMidDay1, RED, 1.3)}
      {stairLine("yellowDay1", yellowDay1, YELLOW, 2)}
      {stairLine("yellowDrop", yellowDrop, YELLOW, 1)}
      {stairLine("lowerLavenderDay2", lowerLavenderDay2, LAVENDER, 1.3)}
      {stairLine("upperLavenderDay2", upperLavenderDay2, LAVENDER, 1.3)}
      {stairLine("upperRedDay2", upperRedDay2, RED, 1.3)}
      {stairLine("lowerRedDay2", lowerRedDay2, RED, 1.3)}
      {stairLine("yellowDay2", yellowDay2, YELLOW, 2.5)}
      {levelNames.map((name, k) => (
        <ReferenceDot
          key={name}
          x={levelLabelEnd[k]}
          y={levelPrices[k]}
          r={0}
          shape={(p: any) => <MonoLabel cx={p.cx} cy={p.cy} text={name} color={levelColors[k]} anchor="end" />}
        />
      ))}
      {sideLabelNames.map((name, k) => (
        <ReferenceDot
          key={`side${k}`}
          x={405.3}
          y={sideLabelPrices[k]}
          r={0}
          shape={(p: any) => <MonoLabel cx={p.cx} cy={p.cy} text={name} color={sideLabelColors[k]} anchor="start" />}
        />
      ))}
      <ReferenceDot x={337.6} y={13243.4} r={0} shape={(p: any) => <MonoLabel cx={p.cx} cy={p.cy} text="1.3243" color="#00ff00" anchor="start" />} />
      <ReferenceDot x={252.1} y={13241} r={0} shape={(p: any) => <MonoLabel cx={p.cx} cy={p.cy} text="POC 1.3241" color={RED} anchor="start" />} />
    </ComposedChart>
  );
}

function VolumePanel() {
  return (
    <ComposedChart width={1878} height={197} margin={{ top: 0, right: 0, bottom: 0, left: 0 }} data={volumeData}>
      <XAxis
        type="number"
        dataKey="x"
        domain={X_DOMAIN}
        allowDataOverflow
        height={46}
        ticks={hourBars}
        interval={0}
        tickSize={0}
        tickMargin={0}
        tickLine={false}
        tick={HourTick}
        axisLine={{ stroke: TEAL, strokeWidth: 2 }}
      />
      <YAxis
        type="number"
        orientation="right"
        width={67}
        domain={[0, 11797]}
        allowDataOverflow
        ticks={volumeTicks}
        interval={0}
        tickSize={0}
        tickMargin={0}
        tickLine={false}
        tick={VolumeTick}
        axisLine={{ stroke: TEAL, strokeWidth: 1.5 }}
      />
      <Bar dataKey="v" barSize={5} fill="#ff0020" stroke="#ff9bea" strokeWidth={0.8} isAnimationActive={false} />
    </ComposedChart>
  );
}

const layer: React.CSSProperties = { position: "absolute", left: 0, top: 46 };

const infoItems = ["Time 03:05", "Close 1.3224", "High 1.3225", "Low 1.3223", "Open 1.3224", "Vol 382", "Int 255", "Date 08-30-13", "Timer 3:55"];
const infoLefts = [4, 94, 200, 298, 391, 495, 562, 624, 738];

const toolIcons = [
  <g key="a"><circle cx="8" cy="11" r="3" fill="#0a7a3a" /><circle cx="13" cy="8" r="3" fill="#c03030" /><circle cx="14" cy="13" r="4" fill="#2060c0" /></g>,
  <g key="b" fill="none" strokeWidth="1.2"><path d="M3 12 Q11 1 19 12" stroke="#2040c0" /><path d="M3 15 Q11 4 19 15" stroke="#e02020" /><path d="M3 18 Q11 7 19 18" stroke="#2040c0" /></g>,
  <g key="c"><path d="M3 5 H19 L13 12 V19 H10 V12 Z" fill="#30b030" /><circle cx="6" cy="5" r="2" fill="#e0c020" /><circle cx="16" cy="4" r="2" fill="#c030c0" /></g>,
  <g key="d"><path d="M5 18 L8 12 L17 3 L20 6 L11 15 Z" fill="#f0a030" stroke="#805020" strokeWidth="0.6" /></g>,
  <g key="e"><rect x="4" y="12" width="3" height="7" fill="#e04020" /><rect x="8" y="8" width="3" height="11" fill="#f0a020" /><rect x="12" y="6" width="3" height="13" fill="#30a040" /><rect x="16" y="3" width="3" height="16" fill="#3060d0" /></g>,
  <g key="f"><line x1="11" y1="2" x2="11" y2="20" stroke="#000" /><rect x="8" y="6" width="6" height="10" fill="#f00000" stroke="#000" /></g>,
  <g key="g"><circle cx="11" cy="11" r="7.5" fill="#fff" stroke="#c00000" strokeWidth="1.6" /><circle cx="11" cy="11" r="8.6" fill="none" stroke="#1030a0" strokeWidth="0.8" /><path d="M11 6 V11 L7 14" stroke="#1030a0" fill="none" /></g>,
  <g key="h"><rect x="4" y="3" width="9" height="11" fill="#fff" stroke="#000" /><path d="M5 6 H12 M5 8 H12 M5 10 H12" stroke="#000" strokeWidth="0.7" /><path d="M10 14 L13 18 L20 8" stroke="#102080" fill="none" strokeWidth="1.6" /></g>,
  <g key="i"><path d="M4 4 L7 3 L19 15 L18 18 L15 17 Z" fill="#e8d020" stroke="#303000" strokeWidth="0.6" /><line x1="8" y1="20" x2="19" y2="20" stroke="#808080" /></g>,
  <g key="j" strokeWidth="1"><path d="M3 19 L10 3" stroke="#2030c0" /><path d="M9 4 H20" stroke="#e02020" /><path d="M8 8 H20" stroke="#20a020" /><path d="M6 12 H20" stroke="#2030c0" /><path d="M5 16 H20" stroke="#e02020" /></g>,
  <g key="k"><path d="M9 3 H13 V11 H17 L11 20 L5 11 H9 Z" fill="#e00000" stroke="#000" strokeWidth="0.5" /></g>,
  <g key="l"><rect x="6" y="6" width="10" height="14" fill="#404040" /><rect x="5" y="4" width="12" height="2" fill="#202020" /><path d="M9 8 V18 M11 8 V18 M13 8 V18" stroke="#c0c0c0" /></g>,
  <g key="m"><path d="M5 4 L12 10 L10 12 Z" fill="#8090a0" /><circle cx="14" cy="14" r="4.5" fill="#3090d0" /><path d="M10 10 L17 18" stroke="#205080" strokeWidth="1.5" /></g>,
  <g key="n"><rect x="5" y="13" width="13" height="3" fill="none" stroke="#405070" /></g>,
  <g key="o" fill="none" stroke="#405070"><rect x="4" y="4" width="14" height="13" /><rect x="7" y="7" width="8" height="7" /></g>,
  <g key="p"><rect x="2" y="2" width="18" height="17" fill="#c84020" /><path d="M7 6 L15 15 M15 6 L7 15" stroke="#fff" strokeWidth="2.6" /></g>,
];

export default function App() {
  return (
    <div style={{ position: "fixed", left: 0, top: 0, width: 1878, height: 974, background: "#000", overflow: "hidden" }}>
      <div style={{ position: "absolute", left: 0, top: 0, width: 1878, height: 28, background: "#d4d0c8" }}>
        <span style={{ position: "absolute", left: 9, top: 5, fontFamily: "Liberation Sans", fontWeight: 700, fontSize: 16, letterSpacing: 0.38, color: "#202020", whiteSpace: "pre" }}>
          @EUU3 5-Min Open 1.3243 High 1.3256 Low 1.3223 Close 1.3224 Vol 22.1K
        </span>
        {toolIcons.map((icon, k) => (
          <svg key={k} width={22} height={22} style={{ position: "absolute", left: 1502 + k * 23, top: 0, background: "#d4d0c8", borderRight: "1px solid #606060", borderBottom: "1px solid #606060", boxSizing: "border-box" }}>
            {icon}
          </svg>
        ))}
      </div>
      <div style={{ position: "absolute", left: 0, top: 28, width: 1878, height: 18, background: "#fff" }}>
        {infoItems.map((item, k) => (
          <span key={item} style={{ position: "absolute", left: infoLefts[k], top: 1, fontFamily: "Liberation Sans", fontSize: 15.8, color: "#000", whiteSpace: "pre" }}>
            {item}
          </span>
        ))}
      </div>

      <div style={layer}><SessionBands /></div>
      <div style={layer}><ProfileLayer /></div>
      <div style={layer}><PricePanel /></div>

      <div style={{ position: "absolute", left: 0, top: 776, width: 1878, height: 2, background: TEAL }} />
      <div style={{ position: "absolute", left: 0, top: 777 }}><VolumePanel /></div>
      <div style={{ position: "absolute", left: 1811, top: 927, width: 67, height: 2, background: TEAL }} />

      <div style={{ position: "absolute", left: 1850, top: 930, width: 10, height: 10, background: "#fffff0", border: "1px solid #00bcbc" }} />
      <div style={{ position: "absolute", left: 1863, top: 930, width: 10, height: 10, border: "1px solid #00bcbc" }} />
      <span style={{ position: "absolute", left: 1859, top: 961, fontFamily: "DejaVu Sans Mono", fontSize: 9, color: TEAL }}>+IQ</span>
    </div>
  );
}
